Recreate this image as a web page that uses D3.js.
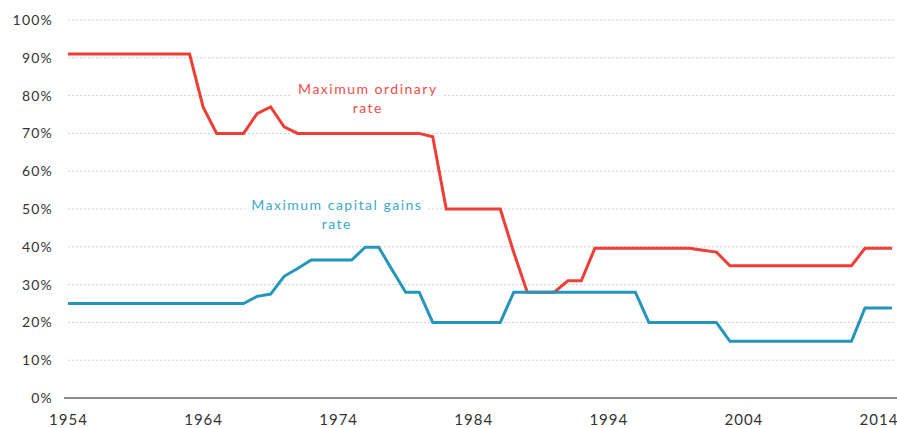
<!DOCTYPE html>
<html>
<head>
<meta charset="utf-8">
<script src="https://cdn.jsdelivr.net/npm/d3@7"></script>
<style>
  body { margin: 0; background: #fff; }
  svg { display: block; font-family: Lato, "Open Sans", sans-serif; }
</style>
</head>
<body>
<svg width="897" height="428"></svg>
<script>
// data
var years = d3.range(1954, 2016);
var ordinary = [91, 91, 91, 91, 91, 91, 91, 91, 91, 91,
                77, 70, 70, 70, 75.25, 77, 71.75, 70, 70, 70,
                70, 70, 70, 70, 70, 70, 70, 69.13, 50, 50,
                50, 50, 50, 38.5, 28, 28, 28, 31, 31, 39.6,
                39.6, 39.6, 39.6, 39.6, 39.6, 39.6, 39.6, 39.1, 38.6, 35,
                35, 35, 35, 35, 35, 35, 35, 35, 35, 39.6,
                39.6, 39.6];
var capgains = [25, 25, 25, 25, 25, 25, 25, 25, 25, 25,
                25, 25, 25, 25, 26.9, 27.5, 32.2, 34.25, 36.5, 36.5,
                36.5, 36.5, 39.88, 39.88, 33.85, 28, 28, 20, 20, 20,
                20, 20, 20, 28, 28, 28, 28, 28, 28, 28,
                28, 28, 28, 20, 20, 20, 20, 20, 20, 15,
                15, 15, 15, 15, 15, 15, 15, 15, 15, 23.8,
                23.8, 23.8];
var yTicks = [0, 10, 20, 30, 40, 50, 60, 70, 80, 90, 100];
var xTicks = [1954, 1964, 1974, 1984, 1994, 2004, 2014];

var series = [
  {name: "ordinary", values: ordinary, color: "#ef3e36", txt: "#f04d47",
   label: ["Maximum ordinary", "rate"], lx: 1976.2, ly: 80.5},
  {name: "capgains", values: capgains, color: "#2495bb", txt: "#3aa9cb",
   label: ["Maximum capital gains", "rate"], lx: 1973.9, ly: 49.7}
];

// display
var x = d3.scaleLinear().domain([1954, 2015]).range([68, 892]);
var y = d3.scaleLinear().domain([0, 100]).range([398, 20]);

var svg = d3.select("svg");

// grid
svg.append("g")
    .selectAll("line")
    .data(yTicks.filter(function(d) { return d > 0; }))
    .enter()
    .append("line")
    .attr("x1", 68)
    .attr("x2", 895)
    .attr("y1", function(d) { return y(d); })
    .attr("y2", function(d) { return y(d); })
    .attr("stroke", "#cfcfcf")
    .attr("stroke-width", 1)
    .attr("stroke-dasharray", "2,2");

// y labels
svg.append("g")
    .selectAll("text")
    .data(yTicks)
    .enter()
    .append("text")
    .attr("x", 53)
    .attr("y", function(d) { return y(d) + 5; })
    .attr("text-anchor", "end")
    .attr("font-size", 14)
    .attr("letter-spacing", 1.2)
    .attr("fill", "#333")
    .text(function(d) { return d + "%"; });

// x axis
var xAxis = d3.axisBottom(x)
    .tickValues(xTicks)
    .tickFormat(d3.format("d"))
    .tickSize(0)
    .tickPadding(16);

var gx = svg.append("g")
    .attr("transform", "translate(0," + y(0) + ")")
    .call(xAxis);
gx.select(".domain").remove();
gx.selectAll("text")
    .attr("font-family", "Lato, 'Open Sans', sans-serif")
    .attr("font-size", 15)
    .attr("letter-spacing", 1)
    .attr("fill", "#333");

svg.append("line")
    .attr("x1", 64)
    .attr("x2", 897)
    .attr("y1", y(0))
    .attr("y2", y(0))
    .attr("stroke", "#8c8c8c")
    .attr("stroke-width", 2);

// labels with white boxes
series.forEach(function(s) {
    var g = svg.append("g");
    var t = g.append("text")
        .attr("x", x(s.lx))
        .attr("y", y(s.ly))
        .attr("text-anchor", "middle")
        .attr("font-size", 14)
        .attr("letter-spacing", 1.5)
        .attr("fill", s.txt);
    s.label.forEach(function(l, i) {
        t.append("tspan")
            .attr("x", x(s.lx))
            .attr("dy", i == 0 ? 0 : 19)
            .text(l);
    });
    var bb = t.node().getBBox();
    g.insert("rect", "text")
        .attr("x", bb.x - 6)
        .attr("y", bb.y - 2)
        .attr("width", bb.width + 12)
        .attr("height", bb.height + 4)
        .attr("fill", "#fff");
});

// lines
var line = d3.line()
    .x(function(d, i) { return x(years[i]); })
    .y(function(d) { return y(d); });

svg.append("g")
    .selectAll("path")
    .data(series)
    .enter()
    .append("path")
    .attr("d", function(s) { return line(s.values); })
    .attr("fill", "none")
    .attr("stroke", function(s) { return s.color; })
    .attr("stroke-width", 3)
    .attr("stroke-linejoin", "miter");
</script>
</body>
</html>
